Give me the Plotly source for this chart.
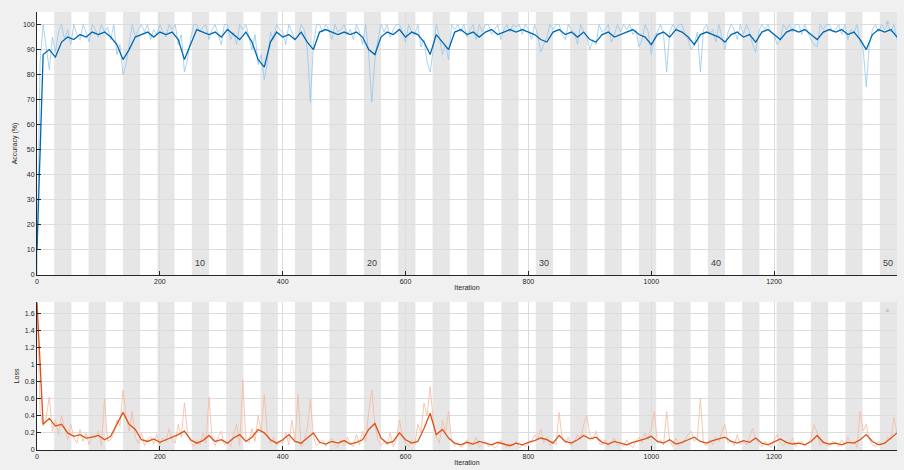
import plotly.graph_objects as go

# ---------------- data ----------------
ITERS_PER_EPOCH = 28
NUM_EPOCHS = 50
MAX_ITER = 1400
epoch_labels = ["10", "20", "30", "40", "50"]
x_ticks = [0, 200, 400, 600, 800, 1000, 1200, 1400]
acc_ticks = [0, 10, 20, 30, 40, 50, 60, 70, 80, 90, 100]
loss_ticks = [0, 0.2, 0.4, 0.6, 0.8, 1, 1.2, 1.4, 1.6]

SMOOTH_STEP = 10
RAW_STEP = 5

acc_smooth = [
    10, 88, 90, 87, 93, 95, 94, 96, 95, 97,
    96, 97, 95, 92, 86, 90, 95, 96, 97, 95,
    97, 96, 97, 94, 86, 92, 98, 97, 96, 97,
    95, 98, 96, 94, 97, 93, 86, 83, 93, 97,
    95, 96, 94, 97, 93, 90, 97, 98, 97, 96,
    97, 96, 97, 95, 90, 88, 95, 97, 96, 98,
    95, 97, 96, 93, 88, 96, 93, 90, 97, 98,
    96, 97, 95, 97, 98, 96, 97, 98, 97, 98,
    97, 96, 94, 93, 97, 98, 96, 97, 95, 97,
    94, 93, 96, 97, 95, 96, 97, 98, 96, 95,
    92, 96, 97, 95, 98, 97, 95, 92, 96, 97,
    96, 95, 93, 96, 97, 95, 96, 93, 97, 98,
    96, 94, 97, 98, 97, 98, 96, 94, 97, 98,
    97, 98, 96, 97, 94, 90, 96, 98, 97, 98,
    95,
]

acc_raw = [
    0, 85, 100, 90, 82, 95, 89, 97, 100, 94,
    98, 92, 100, 96, 94, 100, 97, 93, 100, 98,
    95, 100, 97, 99, 94, 100, 88, 92, 80, 84,
    93, 100, 95, 98, 100, 97, 100, 94, 98, 96,
    100, 97, 95, 100, 98, 100, 92, 96, 81, 86,
    94, 100, 100, 97, 99, 100, 94, 98, 100, 96,
    92, 100, 100, 94, 97, 92, 100, 98, 100, 95,
    90, 96, 84, 88, 78, 85, 97, 94, 100, 98,
    97, 92, 100, 97, 94, 95, 100, 98, 90, 69,
    92, 100, 100, 97, 100, 98, 94, 100, 97, 98,
    100, 96, 98, 94, 100, 97, 92, 100, 88, 69,
    86, 94, 100, 97, 100, 95, 98, 100, 100, 97,
    93, 100, 97, 96, 100, 91, 94, 85, 81, 90,
    100, 95, 88, 92, 86, 100, 98, 100, 97, 100,
    95, 98, 100, 94, 100, 97, 100, 100, 96, 98,
    100, 94, 98, 100, 97, 100, 99, 100, 96, 100,
    98, 94, 100, 96, 89, 92, 95, 100, 98, 100,
    100, 96, 94, 100, 98, 97, 92, 100, 97, 95,
    90, 94, 92, 100, 97, 98, 100, 93, 96, 100,
    97, 100, 98, 100, 96, 98, 91, 94, 100, 97,
    88, 95, 97, 100, 96, 81, 97, 100, 98, 100,
    100, 96, 94, 90, 92, 97, 81, 98, 100, 96,
    98, 93, 100, 95, 90, 97, 100, 98, 94, 100,
    96, 100, 97, 92, 89, 97, 100, 98, 100, 97,
    96, 92, 94, 100, 98, 100, 97, 100, 100, 96,
    100, 97, 94, 92, 91, 100, 98, 100, 100, 97,
    98, 100, 96, 100, 94, 98, 97, 100, 93, 90,
    75, 92, 98, 100, 97, 100, 98, 100, 97, 100,
    94,
]

loss_smooth = [
    1.72, 0.30, 0.37, 0.28, 0.30, 0.20, 0.16, 0.18, 0.14, 0.15,
    0.17, 0.12, 0.16, 0.30, 0.44, 0.30, 0.24, 0.12, 0.10, 0.13,
    0.09, 0.12, 0.15, 0.18, 0.22, 0.12, 0.08, 0.11, 0.17, 0.10,
    0.12, 0.08, 0.14, 0.18, 0.10, 0.15, 0.24, 0.20, 0.12, 0.08,
    0.12, 0.18, 0.10, 0.08, 0.14, 0.20, 0.09, 0.07, 0.10, 0.08,
    0.11, 0.07, 0.09, 0.12, 0.24, 0.31, 0.14, 0.08, 0.10, 0.20,
    0.12, 0.08, 0.10, 0.25, 0.43, 0.18, 0.24, 0.14, 0.08, 0.06,
    0.09, 0.07, 0.10, 0.08, 0.06, 0.09, 0.07, 0.05, 0.08, 0.06,
    0.09, 0.11, 0.14, 0.12, 0.08, 0.17, 0.10, 0.08, 0.12, 0.17,
    0.13, 0.15, 0.09, 0.07, 0.10, 0.08, 0.06, 0.09, 0.11, 0.13,
    0.16, 0.10, 0.08, 0.12, 0.07, 0.09, 0.12, 0.15, 0.10, 0.08,
    0.11, 0.13, 0.15, 0.10, 0.08, 0.11, 0.09, 0.14, 0.08, 0.06,
    0.10, 0.13, 0.09, 0.07, 0.08, 0.06, 0.10, 0.17, 0.09, 0.07,
    0.08, 0.06, 0.09, 0.08, 0.12, 0.18, 0.10, 0.06, 0.08, 0.14,
    0.20,
]

loss_raw = [
    1.75, 0.45, 0.28, 0.38, 0.62, 0.22, 0.35, 0.18, 0.40, 0.25,
    0.12, 0.30, 0.15, 0.08, 0.24, 0.10, 0.20, 0.06, 0.18, 0.14,
    0.22, 0.05, 0.60, 0.10, 0.12, 0.18, 0.35, 0.28, 0.70, 0.40,
    0.22, 0.45, 0.15, 0.08, 0.20, 0.05, 0.12, 0.16, 0.07, 0.18,
    0.06, 0.14, 0.10, 0.25, 0.12, 0.08, 0.30, 0.15, 0.55, 0.20,
    0.10, 0.04, 0.12, 0.06, 0.20, 0.08, 0.62, 0.12, 0.05, 0.15,
    0.22, 0.06, 0.10, 0.04, 0.18, 0.30, 0.05, 0.82, 0.12, 0.08,
    0.25, 0.10, 0.40, 0.22, 0.65, 0.18, 0.08, 0.15, 0.05, 0.10,
    0.08, 0.20, 0.06, 0.35, 0.10, 0.65, 0.04, 0.12, 0.25, 0.60,
    0.15, 0.05, 0.08, 0.12, 0.04, 0.10, 0.14, 0.06, 0.03, 0.12,
    0.05, 0.15, 0.08, 0.04, 0.18, 0.06, 0.22, 0.10, 0.45, 0.70,
    0.30, 0.12, 0.05, 0.10, 0.06, 0.20, 0.04, 0.12, 0.35, 0.15,
    0.08, 0.04, 0.12, 0.06, 0.30, 0.20, 0.55, 0.40, 0.74, 0.35,
    0.15, 0.08, 0.35, 0.20, 0.45, 0.10, 0.05, 0.08, 0.03, 0.06,
    0.12, 0.04, 0.08, 0.15, 0.03, 0.06, 0.10, 0.04, 0.07, 0.02,
    0.05, 0.12, 0.06, 0.03, 0.08, 0.05, 0.10, 0.02, 0.06, 0.04,
    0.08, 0.10, 0.18, 0.12, 0.25, 0.08, 0.15, 0.05, 0.10, 0.06,
    0.44, 0.12, 0.08, 0.15, 0.05, 0.10, 0.18, 0.12, 0.30, 0.40,
    0.18, 0.12, 0.22, 0.08, 0.06, 0.12, 0.04, 0.10, 0.14, 0.05,
    0.08, 0.04, 0.12, 0.06, 0.03, 0.10, 0.15, 0.08, 0.20, 0.12,
    0.25, 0.45, 0.08, 0.12, 0.06, 0.45, 0.10, 0.04, 0.14, 0.05,
    0.08, 0.12, 0.18, 0.22, 0.10, 0.15, 0.60, 0.08, 0.05, 0.12,
    0.06, 0.15, 0.10, 0.22, 0.30, 0.08, 0.12, 0.05, 0.18, 0.06,
    0.10, 0.06, 0.15, 0.25, 0.12, 0.08, 0.04, 0.10, 0.06, 0.03,
    0.12, 0.18, 0.08, 0.05, 0.10, 0.06, 0.14, 0.04, 0.08, 0.10,
    0.05, 0.08, 0.14, 0.30, 0.20, 0.05, 0.10, 0.06, 0.04, 0.10,
    0.08, 0.04, 0.12, 0.06, 0.15, 0.08, 0.10, 0.03, 0.45, 0.22,
    0.30, 0.12, 0.06, 0.04, 0.10, 0.06, 0.08, 0.15, 0.12, 0.38,
    0.20,
]

# ---------------- figure ----------------
x_smooth = [i * SMOOTH_STEP for i in range(len(acc_smooth))]
x_raw = [i * RAW_STEP for i in range(len(acc_raw))]

W, H = 904, 470
FONT = "Liberation Sans, Arial, sans-serif"
AXCOL = "#262626"

fig = go.Figure()

fig.add_trace(go.Scatter(x=x_raw, y=acc_raw, mode="lines",
                         line=dict(color="rgb(150,200,238)", width=0.8),
                         xaxis="x", yaxis="y", showlegend=False, hoverinfo="skip"))
fig.add_trace(go.Scatter(x=x_smooth, y=acc_smooth, mode="lines",
                         line=dict(color="rgb(0,104,178)", width=1.3),
                         xaxis="x", yaxis="y", showlegend=False))
fig.add_trace(go.Scatter(x=x_raw[:len(loss_raw)], y=loss_raw, mode="lines",
                         line=dict(color="rgb(246,185,160)", width=0.8),
                         xaxis="x2", yaxis="y2", showlegend=False, hoverinfo="skip"))
fig.add_trace(go.Scatter(x=x_smooth[:len(loss_smooth)], y=loss_smooth, mode="lines",
                         line=dict(color="rgb(217,83,25)", width=1.3),
                         xaxis="x2", yaxis="y2", showlegend=False))

# alternating epoch shading
shapes = []
for ep in range(2, NUM_EPOCHS + 1, 2):
    x0 = (ep - 1) * ITERS_PER_EPOCH
    x1 = ep * ITERS_PER_EPOCH
    for xr, yr in (("x", "y domain"), ("x2", "y2 domain")):
        shapes.append(dict(type="rect", xref=xr, yref=yr, x0=x0, x1=x1, y0=0, y1=1,
                           fillcolor="#e6e6e6", line=dict(width=0), layer="below"))

annotations = []
for lab in epoch_labels:
    ep = int(lab)
    annotations.append(dict(x=(ep - 0.5) * ITERS_PER_EPOCH, y=4.8, xref="x", yref="y",
                            text=lab, showarrow=False, font=dict(size=9, color="#404040", family=FONT)))
# small collapse icons at the top-right of each panel
for yr in ("y domain", "y2 domain"):
    annotations.append(dict(x=0.995, y=0.985, xref="x domain" if yr == "y domain" else "x2 domain",
                            yref=yr, text="\u25b2", showarrow=False, xanchor="right", yanchor="top",
                            font=dict(size=7, color="#c8c8c8", family=FONT)))

x_dom = [37 / W, 897 / W]
top_dom = [1 - 275 / H, 1 - 12 / H]
bot_dom = [1 - 450 / H, 1 - 302 / H]

axis_common = dict(showline=True, linecolor=AXCOL, linewidth=1, mirror=False,
                   showgrid=True, gridcolor="#dcdcdc", gridwidth=1, zeroline=False,
                   ticks="inside", ticklen=4, tickcolor=AXCOL, automargin=False,
                   tickfont=dict(size=7, color=AXCOL, family=FONT))

fig.update_layout(
    width=W, height=H,
    margin=dict(l=0, r=0, t=0, b=0, autoexpand=False),
    paper_bgcolor="#f0f0f0", plot_bgcolor="white",
    showlegend=False,
    shapes=shapes, annotations=annotations,
    xaxis=dict(domain=x_dom, anchor="y", range=[0, MAX_ITER], tickvals=x_ticks,
               title=dict(text="Iteration", font=dict(size=7, color=AXCOL, family=FONT), standoff=0),
               **axis_common),
    yaxis=dict(domain=top_dom, anchor="x", range=[0, 105], tickvals=acc_ticks,
               title=dict(text="Accuracy (%)", font=dict(size=7, color=AXCOL, family=FONT), standoff=4),
               **axis_common),
    xaxis2=dict(domain=x_dom, anchor="y2", range=[0, MAX_ITER], tickvals=x_ticks,
                title=dict(text="Iteration", font=dict(size=7, color=AXCOL, family=FONT), standoff=0),
                **axis_common),
    yaxis2=dict(domain=bot_dom, anchor="x2", range=[0, 1.73], tickvals=loss_ticks,
                title=dict(text="Loss", font=dict(size=7, color=AXCOL, family=FONT), standoff=4),
                **axis_common),
)

fig.write_html("out.html", config={"displayModeBar": False},
               post_script="document.body.style.margin='0';document.body.style.overflow='hidden';")
